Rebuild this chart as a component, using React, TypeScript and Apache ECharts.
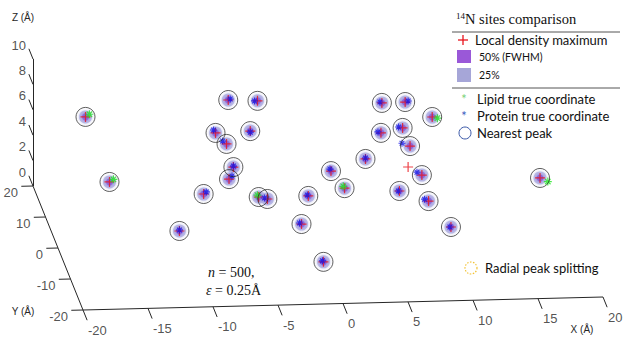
import React, { useEffect, useRef } from "react";
import * as echarts from "echarts";

// Axis ticks (Å)
const xTicks = [-20, -15, -10, -5, 0, 5, 10, 15, 20];
const yTicks = [-20, -10, 0, 10, 20];
const zTicks = [0, 2, 4, 6, 8, 10];

// Density peaks found (x, y, z) in Å
const peaks = [
  [-17.0, 9.2, 8], [-16.0, 0.4, 5], [-11.4, -7.7, 3], [-9.2, -4.2, 5],
  [-6.0, 9.4, 9], [-3.8, 8.9, 9], [-7.2, 7.1, 7], [-4.5, 7.4, 7],
  [-6.7, 3.5, 7], [-6.5, 0.1, 6], [-7.2, -3.7, 6], [-5.1, -5.6, 5],
  [-4.5, -6.3, 5], [-0.9, -1.6, 4], [1.2, 2.1, 5], [2.1, 0.6, 4],
  [4.2, 5.7, 5], [-1.5, -2.4, 2], [-0.6, -10.6, 1], [6.0, 11.3, 8],
  [7.8, 11.4, 8], [9.4, 6.4, 8], [5.4, 5.8, 7], [7.2, 7.2, 7],
  [7.6, 5.4, 6], [8.0, 0.1, 5], [5.8, -4.8, 5], [8.1, -4.2, 4],
  [9.4, -8.6, 3], [17.3, 2.3, 4],
];
// Local density maxima without a matched site
const extraMaxima = [[7.2, 2.8, 5]];

// True coordinates of lipid N sites
const lipidTrue = [
  [-16.7, 9.2, 8.2], [-15.7, 0.4, 5.2], [-5.2, -5.6, 5.15],
  [9.8, 6.4, 7.9], [2.0, 0.6, 4.15], [17.9, 2.3, 3.7],
];
// True coordinates of protein N sites
const proteinTrue = [
  [-11.4, -7.7, 3.08], [-9.0, -4.2, 5.16], [-5.85, 9.4, 9.08], [-4.03, 8.9, 9],
  [-7.35, 7.1, 7.24], [-4.5, 7.4, 6.92], [-7.0, 3.5, 7.24], [-6.5, 0.1, 6.08],
  [-6.97, -3.7, 6.24], [-4.73, -6.3, 5.08], [-0.98, -1.6, 4.08], [1.12, 2.1, 5.16],
  [4.2, 5.7, 5.08], [-1.65, -2.4, 2.08], [-0.68, -10.6, 1.08], [5.85, 11.3, 8.08],
  [8.03, 11.4, 8.08], [5.17, 5.8, 7.08], [6.89, 7.2, 7.08], [6.98, 5.4, 6.24],
  [7.62, 0.1, 5.24], [5.72, -4.8, 5], [7.79, -4.2, 4.16], [9.32, -8.6, 3],
];

// 3-D camera (oblique view) mapping Å to the page plane
const VIEW = { ox: 83, oy: 310, xdx: 13, xdy: -0.325, ydx: -1.25, ydy: -3.1, zdy: -12.7 };
const proj = (p: number[]) => [
  VIEW.ox + (p[0] + 20) * VIEW.xdx + (p[1] + 20) * VIEW.ydx,
  VIEW.oy + (p[0] + 20) * VIEW.xdy + (p[1] + 20) * VIEW.ydy + p[2] * VIEW.zdy,
];

const CROSS = "path://M4.4,0H5.6V4.4H10V5.6H5.6V10H4.4V5.6H0V4.4H4.4Z";
const STAR = "path://M5,0L5,10M0,5L10,5M1.6,1.6L8.4,8.4M8.4,1.6L1.6,8.4";
const TICK_FONT = "Liberation Sans";
const LEG_FONT = "Lato";

export default function App() {
  const ref = useRef<HTMLDivElement>(null);
  useEffect(() => {
    document.body.style.margin = "0";
    const chart = echarts.init(ref.current!, null, { renderer: "svg" });

    const segs: number[][][] = [
      [proj([-20, -20, 0]), proj([20, -20, 0])],
      [proj([-20, -20, 0]), proj([-20, 20, 0])],
      [proj([-20, 20, 0]), proj([-20, 20, 10])],
      ...xTicks.map((x) => [proj([x, -20, 0]), proj([x, -23.3, 0])]),
      ...yTicks.map((y) => [proj([-20, y, 0]), proj([-20.9, y, 0])]),
      ...zTicks.map((z) => [proj([-20, 20, z]), proj([-20, 23.3, z])]),
    ];

    const tickLabel = (offset: number[], align: string) => ({
      show: true,
      formatter: "{b}",
      position: "inside",
      offset,
      align,
      verticalAlign: "middle",
      fontFamily: TICK_FONT,
      fontSize: 13,
      color: "#262626",
    });

    const legText = (x: number, y: number, text: string, size = 13) => ({
      type: "text",
      x,
      y,
      style: { text, fontFamily: LEG_FONT, fontSize: size, fill: "#111", verticalAlign: "middle" },
    });

    const option: any = {
      animation: false,
      grid: { left: 0, right: 0, top: 0, bottom: 0 },
      xAxis: { type: "value", min: 0, max: 623, show: false },
      yAxis: { type: "value", min: 0, max: 350, inverse: true, show: false },
      series: [
        {
          type: "lines",
          coordinateSystem: "cartesian2d",
          silent: true,
          lineStyle: { color: "#262626", width: 1, opacity: 1 },
          data: segs.map((c) => ({ coords: c })),
        },
        {
          type: "scatter",
          symbolSize: 0,
          silent: true,
          data: xTicks.map((x) => ({ value: proj([x, -20, 0]), name: String(x) })),
          label: tickLabel([5, 20], "left"),
        },
        {
          type: "scatter",
          symbolSize: 0,
          silent: true,
          data: yTicks.map((y) => ({ value: proj([-20, y, 0]), name: String(y) })),
          label: tickLabel([-15, 6], "right"),
        },
        {
          type: "scatter",
          symbolSize: 0,
          silent: true,
          data: zTicks.map((z) => ({ value: proj([-20, 20, z]), name: String(z) })),
          label: tickLabel([-7, -14], "right"),
        },
        {
          name: "25%",
          type: "scatter",
          symbol: "circle",
          symbolSize: 13,
          silent: true,
          itemStyle: { color: "rgba(165,165,222,0.85)", shadowBlur: 3, shadowColor: "rgba(165,165,222,0.9)" },
          data: peaks.map(proj),
        },
        {
          name: "50% (FWHM)",
          type: "scatter",
          symbol: "circle",
          symbolSize: 7,
          silent: true,
          itemStyle: { color: "rgba(130,80,215,0.8)", shadowBlur: 2, shadowColor: "rgba(130,80,215,0.8)" },
          data: peaks.map(proj),
        },
        {
          name: "Local density maximum",
          type: "scatter",
          symbol: CROSS,
          symbolSize: 10,
          silent: true,
          itemStyle: { color: "#e8141c" },
          data: [...peaks, ...extraMaxima].map(proj),
        },
        {
          name: "Protein true coordinate",
          type: "scatter",
          symbol: STAR,
          symbolSize: 7,
          silent: true,
          itemStyle: { color: "none", borderColor: "#1414e6", borderWidth: 1.1 },
          data: proteinTrue.map(proj),
        },
        {
          name: "Lipid true coordinate",
          type: "scatter",
          symbol: STAR,
          symbolSize: 8,
          silent: true,
          itemStyle: { color: "none", borderColor: "#22e622", borderWidth: 1.2 },
          data: lipidTrue.map(proj),
        },
        {
          name: "Nearest peak",
          type: "scatter",
          symbol: "circle",
          symbolSize: 19,
          silent: true,
          itemStyle: { color: "transparent", borderColor: "#1e1e1e", borderWidth: 0.9 },
          data: peaks.map(proj),
        },
      ],
      graphic: [
        { type: "text", x: 23, y: 17, style: { text: "Z (Å)", fontFamily: TICK_FONT, fontSize: 10, fill: "#262626", align: "center", verticalAlign: "middle" } },
        { type: "text", x: 23, y: 311, style: { text: "Y (Å)", fontFamily: TICK_FONT, fontSize: 10, fill: "#262626", align: "center", verticalAlign: "middle" } },
        { type: "text", x: 582, y: 329, style: { text: "X (Å)", fontFamily: TICK_FONT, fontSize: 10, fill: "#262626", align: "center", verticalAlign: "middle" } },
        // legend
        {
          type: "text",
          x: 456,
          y: 19,
          style: {
            text: "{s|14}{t|N sites comparison}",
            verticalAlign: "middle",
            rich: {
              s: { fontFamily: "Liberation Serif", fontSize: 9, fill: "#111", padding: [0, 0, 7, 0] },
              t: { fontFamily: "Liberation Serif", fontSize: 14.5, fill: "#111" },
            },
          },
        },
        { type: "line", shape: { x1: 452, y1: 32, x2: 620, y2: 32 }, style: { stroke: "#555", lineWidth: 1 } },
        { type: "line", shape: { x1: 458, y1: 40, x2: 468, y2: 40 }, style: { stroke: "#e8141c", lineWidth: 1.3 } },
        { type: "line", shape: { x1: 463, y1: 35, x2: 463, y2: 45 }, style: { stroke: "#e8141c", lineWidth: 1.3 } },
        legText(475, 40, "Local density maximum"),
        { type: "rect", shape: { x: 457, y: 50, width: 14, height: 13 }, style: { fill: "#9a58d8" } },
        legText(479, 57, "50% (FWHM)", 10.5),
        { type: "rect", shape: { x: 457, y: 68, width: 14, height: 14 }, style: { fill: "#a6a6d8" } },
        legText(479, 75, "25%", 10.5),
        { type: "line", shape: { x1: 452, y1: 88, x2: 620, y2: 88 }, style: { stroke: "#555", lineWidth: 1 } },
        {
          type: "text", x: 464, y: 99,
          style: { text: "*", fontFamily: LEG_FONT, fontSize: 13, fill: "#7ad07a", align: "center", verticalAlign: "middle" },
        },
        legText(477, 99, "Lipid true coordinate"),
        {
          type: "text", x: 464, y: 116,
          style: { text: "*", fontFamily: LEG_FONT, fontSize: 13, fill: "#3a5cc0", align: "center", verticalAlign: "middle" },
        },
        legText(477, 116, "Protein true coordinate"),
        { type: "circle", shape: { cx: 465, cy: 133, r: 6 }, style: { fill: "none", stroke: "#3a58a8", lineWidth: 1 } },
        legText(477, 133, "Nearest peak"),
        { type: "circle", shape: { cx: 471, cy: 268, r: 6 }, style: { fill: "none", stroke: "#f2c232", lineWidth: 1.2, lineDash: [1.5, 1.5] } },
        legText(485, 268, "Radial peak splitting"),
        {
          type: "text",
          x: 208,
          y: 272,
          style: {
            text: "{i|n}{r| = 500,}",
            verticalAlign: "middle",
            rich: {
              i: { fontFamily: "Liberation Serif", fontStyle: "italic", fontSize: 14, fill: "#111" },
              r: { fontFamily: "Liberation Serif", fontSize: 14, fill: "#111" },
            },
          },
        },
        {
          type: "text",
          x: 206,
          y: 290,
          style: {
            text: "{i|ε}{r| = 0.25Å}",
            verticalAlign: "middle",
            rich: {
              i: { fontFamily: "Liberation Serif", fontStyle: "italic", fontSize: 14, fill: "#111" },
              r: { fontFamily: "Liberation Serif", fontSize: 14, fill: "#111" },
            },
          },
        },
      ],
    };
    chart.setOption(option);
    return () => chart.dispose();
  }, []);
  return <div ref={ref} style={{ width: 623, height: 350 }} />;
}
